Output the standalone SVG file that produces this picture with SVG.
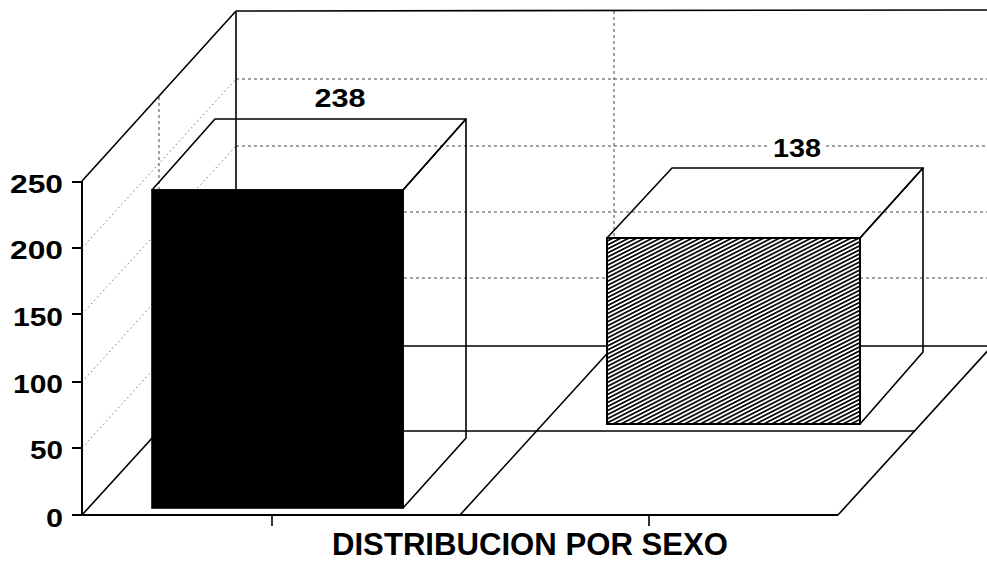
<svg xmlns="http://www.w3.org/2000/svg" width="987" height="563" viewBox="0 0 987 563">
<defs>
<style>
.solid{stroke:#000;stroke-width:1.6;fill:none;stroke-linejoin:round}
.axis{stroke:#000;stroke-width:2;fill:none}
.grid{stroke:#444;stroke-width:1;fill:none;stroke-dasharray:3 3}
.gridl{stroke:#777;stroke-width:1;fill:none;stroke-dasharray:1.5 3}
.num{font-family:"Liberation Sans",Arial,sans-serif;font-weight:bold;font-size:26px;fill:#000}
.title{font-family:"Liberation Sans",Arial,sans-serif;font-weight:bold;font-size:32px;fill:#000}
</style>
<pattern id="hatch" patternUnits="userSpaceOnUse" width="12" height="3.6" patternTransform="rotate(-27)">
<rect x="0" y="0" width="12" height="3.6" fill="#fff"/>
<rect x="0" y="0" width="12" height="1.7" fill="#000"/>
</pattern>
</defs>
<rect width="987" height="563" fill="#fff"/>

<g id="grid">
<!-- back wall horizontal gridlines -->
<line class="grid" x1="236" y1="79" x2="987" y2="79"/>
<line class="grid" x1="236" y1="146" x2="770" y2="146"/>
<line class="grid" x1="826" y1="146" x2="987" y2="146"/>
<line class="grid" x1="236" y1="212" x2="987" y2="212"/>
<line class="grid" x1="236" y1="278" x2="987" y2="278"/>
<!-- back wall category divider -->
<line class="grid" x1="614" y1="11" x2="614" y2="346"/>
<!-- left wall diagonal gridlines -->
<line class="gridl" x1="82" y1="248" x2="236" y2="79"/>
<line class="gridl" x1="82" y1="314" x2="236" y2="146"/>
<line class="gridl" x1="82" y1="382" x2="236" y2="212"/>
<line class="gridl" x1="82" y1="448" x2="236" y2="278"/>
<!-- left wall depth divider -->
<line class="grid" x1="159" y1="97" x2="159" y2="431"/>
</g>

<g id="floor">
<line class="solid" x1="82" y1="515" x2="236" y2="346"/>
<line class="solid" x1="236" y1="346" x2="987" y2="346"/>
<line class="solid" x1="838" y1="515" x2="992" y2="346"/>
<line class="solid" x1="159" y1="431" x2="915" y2="431"/>
<line class="solid" x1="460" y1="515" x2="614" y2="346"/>
</g>

<g id="walls">
<line class="solid" x1="82" y1="181" x2="236" y2="11"/>
<line class="solid" x1="236" y1="11" x2="987" y2="10"/>
<line class="solid" x1="236" y1="11" x2="236" y2="346"/>
</g>

<g id="axes">
<line class="axis" x1="82" y1="181" x2="82" y2="515"/>
<line class="axis" x1="72" y1="515" x2="838" y2="515"/>
<line class="axis" x1="72" y1="182" x2="82" y2="182"/>
<line class="axis" x1="72" y1="248" x2="82" y2="248"/>
<line class="axis" x1="72" y1="314" x2="82" y2="314"/>
<line class="axis" x1="72" y1="382" x2="82" y2="382"/>
<line class="axis" x1="72" y1="448" x2="82" y2="448"/>
<line class="solid" x1="272" y1="515" x2="272" y2="526"/>
<line class="solid" x1="649" y1="515" x2="649" y2="526"/>
<text class="num" x="63" y="193" text-anchor="end" textLength="53" lengthAdjust="spacingAndGlyphs">250</text>
<text class="num" x="63" y="259" text-anchor="end" textLength="53" lengthAdjust="spacingAndGlyphs">200</text>
<text class="num" x="63" y="326" text-anchor="end" textLength="50" lengthAdjust="spacingAndGlyphs">150</text>
<text class="num" x="63" y="393" text-anchor="end" textLength="50" lengthAdjust="spacingAndGlyphs">100</text>
<text class="num" x="63" y="459" text-anchor="end" textLength="33" lengthAdjust="spacingAndGlyphs">50</text>
<text class="num" x="63" y="527" text-anchor="end" textLength="17" lengthAdjust="spacingAndGlyphs">0</text>
</g>

<g id="bar2">
<polygon class="solid" fill="#fff" points="607,238 672,168 923,168 860,238"/>
<polygon class="solid" fill="#fff" points="860,238 923,168 923,352 860,424"/>
<rect x="607" y="238" width="253" height="186" fill="url(#hatch)" stroke="#000" stroke-width="2"/>
<text class="num" x="797" y="157" text-anchor="middle" textLength="48" lengthAdjust="spacingAndGlyphs">138</text>
</g>

<g id="bar1">
<polygon class="solid" fill="#fff" points="152,190 215,119 466,119 403,190"/>
<polygon class="solid" fill="#fff" points="403,190 466,119 466,438 403,508"/>
<rect x="152" y="190" width="251" height="318" fill="#000" stroke="#000" stroke-width="1.6"/>
<text class="num" x="340" y="107" text-anchor="middle" textLength="51" lengthAdjust="spacingAndGlyphs">238</text>
</g>

<g id="title">
<text class="title" x="530" y="555" text-anchor="middle" textLength="396" lengthAdjust="spacingAndGlyphs">DISTRIBUCION POR SEXO</text>
</g>
</svg>
